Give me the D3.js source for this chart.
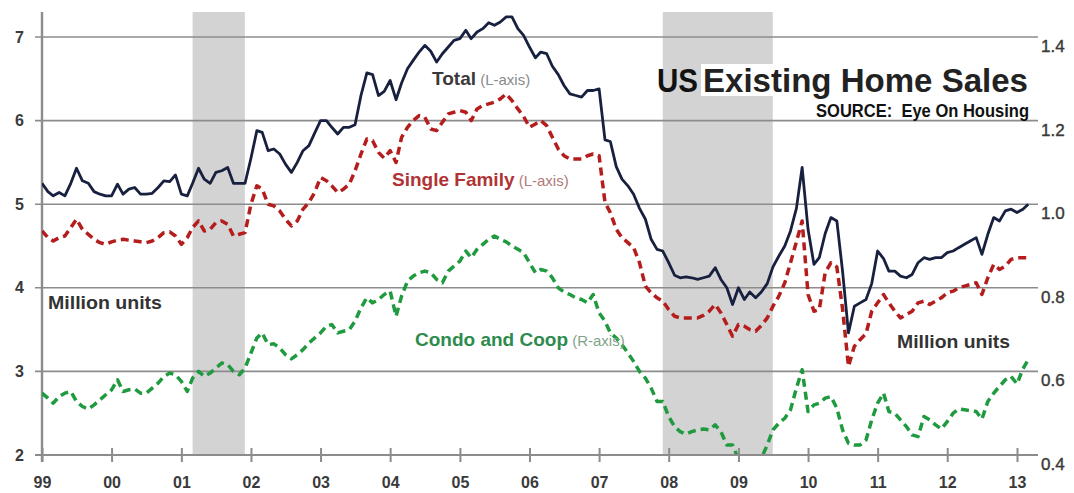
<!DOCTYPE html>
<html><head><meta charset="utf-8">
<script src="https://cdn.jsdelivr.net/npm/d3@7"></script>
<style>body{margin:0;background:#fff;} svg{display:block;}</style>
</head><body><svg id="c" width="1074" height="493"></svg>
<script>
// ---- data ----
const yearLabels = ["99","00","01","02","03","04","05","06","07","08","09","10","11","12","13"];
const leftTicks = [2,3,4,5,6,7];
const rightTicks = [0.4,0.6,0.8,1.0,1.2,1.4];
const recessions = [["2001-03-01","2001-11-30"],["2007-12-01","2009-06-30"]];
const firstMonth = "1999-01-01";
// Total existing home sales, million units (L-axis), monthly Jan 1999 - Mar 2013
const total = [
5.25,5.15,5.10,5.14,5.10,5.25,5.43,5.28,5.25,5.15,5.12,5.10,
5.10,5.24,5.12,5.18,5.20,5.12,5.12,5.13,5.20,5.28,5.27,5.35,
5.12,5.10,5.25,5.43,5.30,5.25,5.38,5.40,5.44,5.25,5.25,5.25,
5.55,5.88,5.86,5.64,5.66,5.60,5.48,5.38,5.50,5.64,5.70,5.85,
6.00,6.00,5.92,5.84,5.92,5.92,5.95,6.30,6.57,6.55,6.30,6.35,
6.48,6.25,6.45,6.62,6.72,6.82,6.90,6.83,6.70,6.80,6.88,6.96,
6.98,7.08,6.98,7.06,7.10,7.17,7.14,7.18,7.24,7.24,7.10,7.02,
6.88,6.75,6.82,6.80,6.65,6.55,6.42,6.32,6.30,6.28,6.36,6.36,
6.38,5.77,5.75,5.45,5.30,5.22,5.12,4.95,4.82,4.58,4.46,4.44,
4.30,4.15,4.12,4.13,4.12,4.10,4.12,4.14,4.24,4.10,4.00,3.80,
4.00,3.86,3.95,3.88,3.95,4.05,4.25,4.38,4.50,4.68,4.95,5.44,
4.70,4.28,4.36,4.65,4.84,4.80,4.20,3.46,3.78,3.82,3.86,4.05,
4.44,4.35,4.20,4.20,4.14,4.12,4.16,4.30,4.36,4.34,4.36,4.36,
4.42,4.44,4.48,4.52,4.56,4.60,4.40,4.64,4.84,4.80,4.92,4.94,
4.90,4.94,5.00];
// Single family, million units (L-axis)
const singleFamily = [
4.68,4.60,4.56,4.60,4.62,4.72,4.82,4.70,4.64,4.58,4.54,4.52,
4.55,4.57,4.58,4.57,4.56,4.55,4.54,4.56,4.60,4.66,4.67,4.62,
4.52,4.60,4.72,4.80,4.68,4.70,4.78,4.80,4.76,4.62,4.64,4.66,
5.00,5.22,5.18,5.00,4.98,4.92,4.82,4.74,4.80,4.94,5.02,5.14,
5.32,5.28,5.22,5.14,5.18,5.24,5.40,5.60,5.78,5.76,5.62,5.55,
5.64,5.50,5.80,5.92,6.00,6.06,6.04,5.90,5.88,5.98,6.08,6.10,
6.12,6.10,6.00,6.14,6.18,6.20,6.22,6.26,6.32,6.24,6.14,6.05,
5.92,5.96,6.00,5.94,5.80,5.66,5.58,5.54,5.54,5.54,5.58,5.60,
5.58,5.02,4.90,4.70,4.60,4.54,4.48,4.30,4.02,3.94,3.88,3.84,
3.74,3.66,3.64,3.64,3.64,3.64,3.67,3.72,3.80,3.70,3.56,3.42,
3.56,3.54,3.50,3.48,3.55,3.64,3.78,3.90,4.06,4.30,4.55,4.80,
3.92,3.72,3.74,4.18,4.30,4.25,3.75,3.06,3.30,3.38,3.45,3.72,
3.82,3.92,3.82,3.72,3.64,3.68,3.72,3.82,3.84,3.80,3.84,3.88,
3.94,3.96,4.00,4.02,4.04,4.06,3.92,4.12,4.28,4.22,4.26,4.34,
4.36,4.36,4.36];
// Condo and coop, million units (R-axis)
const condo = [
0.548,0.536,0.524,0.540,0.548,0.552,0.528,0.516,0.510,0.520,0.532,0.544,
0.556,0.580,0.552,0.556,0.558,0.548,0.548,0.560,0.572,0.588,0.596,0.592,
0.576,0.552,0.584,0.600,0.588,0.596,0.608,0.620,0.616,0.600,0.592,0.608,
0.644,0.680,0.692,0.664,0.666,0.656,0.640,0.630,0.640,0.652,0.668,0.680,
0.692,0.708,0.712,0.692,0.696,0.700,0.720,0.752,0.776,0.764,0.772,0.784,
0.792,0.732,0.780,0.816,0.828,0.836,0.840,0.836,0.820,0.812,0.840,0.852,
0.864,0.888,0.872,0.892,0.904,0.916,0.924,0.916,0.910,0.900,0.892,0.884,
0.860,0.836,0.844,0.840,0.824,0.800,0.790,0.784,0.776,0.772,0.764,0.784,
0.740,0.720,0.692,0.680,0.664,0.644,0.624,0.600,0.584,0.560,0.528,0.528,
0.492,0.468,0.456,0.450,0.456,0.460,0.462,0.460,0.472,0.456,0.424,0.424,
0.390,0.380,0.380,0.384,0.392,0.424,0.460,0.476,0.488,0.508,0.560,0.604,
0.504,0.520,0.524,0.536,0.540,0.512,0.460,0.428,0.424,0.424,0.436,0.484,
0.524,0.548,0.504,0.500,0.484,0.468,0.448,0.444,0.492,0.484,0.472,0.462,
0.480,0.500,0.510,0.508,0.506,0.504,0.486,0.528,0.548,0.564,0.580,0.588,
0.570,0.606,0.628];

(function () {
const parse = d3.timeParse("%Y-%m-%d");
const start = parse(firstMonth);
const months = d3.timeMonth.range(start, d3.timeMonth.offset(start, total.length));
const yearDates = yearLabels.map((_, i) => d3.timeYear.offset(start, i));

const svg = d3.select("#c");
const FONT = "'Liberation Sans', Arial, sans-serif";
const NARROW = "'Liberation Sans Narrow', 'Liberation Sans', Arial, sans-serif";

const x = d3.scaleTime().domain([start, yearDates[yearDates.length-1]]).range([42, 1017]);
const yL = d3.scaleLinear().domain([2, 7]).range([455, 37]);
const yR = d3.scaleLinear().domain([0.4, 1.4]).range([455, 37]);
const plotTop = 12, plotBottom = 455, gridX0 = 35, gridX1 = 1038;

// recession shading
svg.append("g").selectAll("rect").data(recessions).join("rect")
  .attr("x", d => x(parse(d[0])))
  .attr("width", d => x(parse(d[1])) - x(parse(d[0])))
  .attr("y", plotTop).attr("height", plotBottom - plotTop)
  .attr("fill", "#d3d3d3");

// white band behind title
svg.append("rect").attr("x", 701).attr("y", 64).attr("width", 330).attr("height", 32).attr("fill", "#fff");

// gridlines
svg.append("g").selectAll("line").data(leftTicks.filter(t => t > 2)).join("line")
  .attr("x1", gridX0).attr("x2", gridX1)
  .attr("y1", d => yL(d)).attr("y2", d => yL(d))
  .attr("stroke", "#8c8c8c").attr("stroke-width", 1.6);

// left axis
const gl = svg.append("g").attr("transform", "translate(42,0)")
  .call(d3.axisLeft(yL).tickValues(leftTicks).tickFormat(d3.format("d")).tickSize(0).tickPadding(18));
gl.select(".domain").remove();
gl.selectAll("text").attr("font-family", FONT).attr("font-size", 16).attr("font-weight", "bold").attr("fill", "#3a3a3a");
svg.append("line").attr("x1", 42).attr("x2", 42).attr("y1", plotTop).attr("y2", plotBottom + 7)
  .attr("stroke", "#8c8c8c").attr("stroke-width", 2.4);

// right axis labels
const gr = svg.append("g").attr("transform", `translate(${gridX1},0)`)
  .call(d3.axisRight(yR).tickValues(rightTicks).tickFormat(d3.format(".1f")).tickSize(0).tickPadding(3));
gr.select(".domain").remove();
gr.selectAll("text").attr("font-family", FONT).attr("font-size", 17).attr("fill", "#3a3a3a")
  .attr("dy", "0.85em").attr("stroke", "#3a3a3a").attr("stroke-width", 0.4);

// bottom axis
const gb = svg.append("g").attr("transform", `translate(0,${plotBottom})`)
  .call(d3.axisBottom(x).tickValues(yearDates).tickFormat((d, i) => yearLabels[i]).tickSizeInner(7).tickSizeOuter(0).tickPadding(15));
gb.select(".domain").remove();
gb.selectAll(".tick line").attr("y1", -7).attr("stroke", "#8c8c8c").attr("stroke-width", 2);
gb.selectAll("text").attr("font-family", FONT).attr("font-size", 16).attr("font-weight", "bold").attr("fill", "#3a3a3a");
svg.append("line").attr("x1", gridX0).attr("x2", gridX1).attr("y1", plotBottom).attr("y2", plotBottom)
  .attr("stroke", "#8c8c8c").attr("stroke-width", 2);

// clip for lines
svg.append("clipPath").attr("id", "plotclip").append("rect")
  .attr("x", 42).attr("y", plotTop).attr("width", 1000).attr("height", plotBottom - plotTop - 1);

const lineL = d3.line().x((d, i) => x(months[i])).y(d => yL(d));
const lineR = d3.line().x((d, i) => x(months[i])).y(d => yR(d));
const lg = svg.append("g").attr("clip-path", "url(#plotclip)");
lg.append("path").datum(condo).attr("d", lineR).attr("fill", "none")
  .attr("stroke", "#1f9a3f").attr("stroke-width", 3.5).attr("stroke-dasharray", "8,5").attr("stroke-linejoin", "round");
lg.append("path").datum(singleFamily).attr("d", lineL).attr("fill", "none")
  .attr("stroke", "#b51d1d").attr("stroke-width", 3.5).attr("stroke-dasharray", "8,5").attr("stroke-linejoin", "round");
lg.append("path").datum(total).attr("d", lineL).attr("fill", "none")
  .attr("stroke", "#17203f").attr("stroke-width", 2.8).attr("stroke-linejoin", "round");

// series labels
function label(xp, yp, main, sub, col, subCol) {
  const t = svg.append("text").attr("x", xp).attr("y", yp).attr("font-family", FONT);
  t.append("tspan").text(main).attr("font-size", 19).attr("font-weight", "bold").attr("fill", col);
  t.append("tspan").text(" " + sub).attr("font-size", 15).attr("fill", subCol);
}
label(432, 85, "Total", "(L-axis)", "#3a3a3a", "#8a8a8a");
label(392, 186, "Single Family", "(L-axis)", "#b03434", "#b07a7a");
label(415, 346, "Condo and Coop", "(R-axis)", "#2e8b4e", "#7fa58a");

svg.append("text").attr("x", 48).attr("y", 309).text("Million units")
  .attr("font-family", FONT).attr("font-size", 18).attr("font-weight", "bold").attr("fill", "#333")
  .attr("textLength", 114).attr("lengthAdjust", "spacingAndGlyphs");
svg.append("text").attr("x", 897).attr("y", 348).text("Million units")
  .attr("font-family", FONT).attr("font-size", 18).attr("font-weight", "bold").attr("fill", "#333")
  .attr("textLength", 113).attr("lengthAdjust", "spacingAndGlyphs");

// title
svg.append("text").attr("x", 657).attr("y", 92).text("US")
  .attr("font-family", NARROW).attr("font-size", 33).attr("font-weight", "bold").attr("fill", "#111")
  .attr("textLength", 41).attr("lengthAdjust", "spacingAndGlyphs");
svg.append("text").attr("x", 703).attr("y", 92).text("Existing Home Sales")
  .attr("font-family", FONT).attr("font-size", 33).attr("font-weight", "bold").attr("fill", "#222")
  .attr("textLength", 325).attr("lengthAdjust", "spacingAndGlyphs");
svg.append("text").attr("transform", "translate(1029,117) scale(0.87,1)").attr("text-anchor", "end")
  .text("SOURCE:\u00a0\u00a0Eye On Housing")
  .attr("font-family", FONT).attr("font-size", 19).attr("font-weight", "bold").attr("fill", "#111");
})();
</script></body></html>
